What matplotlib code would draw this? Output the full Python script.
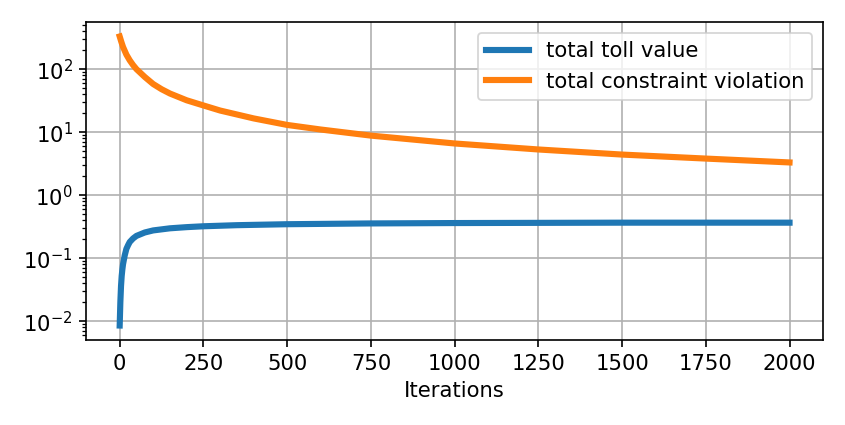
import matplotlib
matplotlib.use("Agg")
import matplotlib.pyplot as plt

# values
toll_iters = [0, 1, 2, 4, 6, 8, 10, 15, 20, 25, 30, 40, 50, 75, 100, 150, 200, 250,
              350, 500, 750, 1000, 1500, 2000]
toll_vals = [0.0085, 0.013, 0.02, 0.036, 0.052, 0.066, 0.08, 0.11, 0.14, 0.16, 0.18,
             0.205, 0.225, 0.255, 0.275, 0.297, 0.31, 0.32, 0.333, 0.345, 0.355, 0.36,
             0.365, 0.365]

viol_iters = [0, 5, 10, 20, 30, 40, 50, 75, 100, 125, 150, 200, 250, 300, 400, 500,
              600, 750, 1000, 1250, 1500, 1750, 2000]
viol_vals = [330, 270, 225, 170, 138, 116, 100, 75, 58, 48, 41, 32, 26.5, 22, 16.5, 13,
             11, 8.8, 6.6, 5.3, 4.4, 3.8, 3.3]

plt.rcParams["font.size"] = 11.7
plt.rcParams["axes.linewidth"] = 0.92
plt.rcParams["xtick.major.size"] = 4.0
plt.rcParams["ytick.major.size"] = 4.0
plt.rcParams["ytick.minor.size"] = 2.3
plt.rcParams["xtick.major.width"] = 0.92
plt.rcParams["ytick.major.width"] = 0.92
plt.rcParams["ytick.minor.width"] = 0.7
plt.rcParams["grid.linewidth"] = 0.92

fig = plt.figure(figsize=(6.5, 3.27), dpi=130)
ax = fig.add_axes([0.102, 0.2, 0.872, 0.748])

ax.plot(toll_iters, toll_vals, lw=3.4, label="total toll value")
ax.plot(viol_iters, viol_vals, lw=3.4, label="total constraint violation")
ax.set_yscale("log")
ax.set_xlabel("Iterations")
ax.grid(True)
ax.legend(loc="upper right")

fig.savefig("out.png", dpi=130)
